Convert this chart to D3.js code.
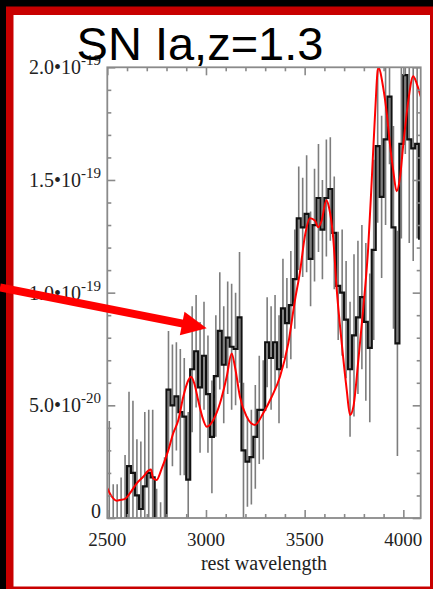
<!DOCTYPE html>
<html>
<head>
<meta charset="utf-8">
<script src="https://d3js.org/d3.v7.min.js"></script>
<style>
  html, body { margin: 0; padding: 0; background: #000; }
  svg { display: block; }
</style>
</head>
<body>
<svg id="chart" width="433" height="589"></svg>
<script>
// binned spectrum, flux in units of 1e-20, 20 A bins starting at 2500
var binEdges = d3.range(2500, 4101, 20);
var binFlux = [-0.5,-0.3,-0.9,-0.4,-0.2,2.3,2.0,1.0,0.4,1.4,
  2.0,1.8,-0.5,-0.8,-0.3,5.7,5.0,5.4,4.7,4.5,
  1.7,6.6,7.4,5.8,7.2,5.5,3.6,6.3,8.3,6.8,
  8.0,7.6,7.5,8.9,3.0,2.5,2.7,3.6,4.8,4.8,
  7.8,7.1,7.8,6.6,9.3,8.65,9.45,10.6,13.3,12.9,
  13.5,11.5,13.0,14.2,12.8,14.2,14.6,12.65,10.3,10.0,
  8.8,6.6,8.1,8.9,9.8,8.7,7.55,11.9,16.5,14.25,
  16.8,18.7,12.9,7.75,16.6,19.65,16.8,16.4,16.6,12.4];
var binErr = [4.8,1.8,2.4,2.2,3.0,3.3,3.2,2.5,3.0,3.3,
  2.8,3.0,1.8,1.5,3.0,2.6,2.7,2.4,2.8,2.6,
  3.0,2.8,2.5,2.9,2.4,2.6,2.5,2.7,2.6,2.6,
  2.5,2.8,2.5,2.9,3.0,2.0,2.1,2.3,2.4,2.2,
  2.0,2.3,2.1,2.4,2.2,2.0,2.4,2.2,2.3,2.2,
  2.6,2.1,2.5,2.4,2.2,2.6,2.3,2.5,2.4,2.8,
  2.6,3.0,3.6,3.4,3.2,3.5,3.3,4.0,3.4,3.6,
  3.8,3.0,4.5,5.0,4.2,3.5,4.6,5.0,4.2,3.5];

// template (red)
var modelWave = [2500,2519,2548,2564,2590,2615,2649,2682,2708,2721,2733,2750,2776,2809,2834,2860,2885,2910,2924,2941,2961,2981,3004,3037,3071,3105,3130,3147,3172,3206,3248,3290,3333,3375,3417,3451,3476,3502,3527,3552,3569,3586,3610,3623,3645,3662,3688,3713,3730,3747,3772,3797,3822,3840,3856,3873,3898,3916,3932,3949,3966,3983,4000,4025,4050,4067,4088];
var modelFlux = [1.32,1.0,0.77,0.8,0.85,1.1,1.54,1.83,2.1,2.15,1.75,1.69,2.2,3.0,3.76,4.35,5.38,6.1,6.27,5.97,5.2,4.5,4.05,4.35,5.09,6.27,7.3,6.7,5.38,4.5,4.13,4.65,5.38,6.27,7.75,9.67,10.9,12.55,13.3,13.2,12.9,13.2,14.1,13.8,12.4,10.2,7.75,5.7,4.57,4.94,7.0,9.3,12.0,15.0,17.8,20.0,19.1,17.96,16.6,15.4,14.5,15.1,16.6,18.5,19.6,19.3,18.7];

var xTicks = [2500, 3000, 3500, 4000];
var yTicks = [0, 5, 10, 15, 20];
var yTickMant = ["0", "5.0", "1.0", "1.5", "2.0"];
var yTickExp = ["", "-20", "-19", "-19", "-19"];

var svg = d3.select("#chart");

// frame
svg.append("rect").attr("x", 6).attr("y", 6.5).attr("width", 427).attr("height", 582.5).attr("fill", "#c80000");
svg.append("rect").attr("x", 13.5).attr("y", 15).attr("width", 416.5).attr("height", 571.5).attr("fill", "#fff");

var plot = {left: 107.3, right: 420.7, top: 67.3, bottom: 518};

var x = d3.scaleLinear().domain([2500, 4088]).range([plot.left, plot.right]);
var y = d3.scaleLinear().domain([0, 20]).range([plot.bottom, plot.top]);

svg.append("clipPath").attr("id", "clip")
  .append("rect")
  .attr("x", plot.left).attr("y", plot.top)
  .attr("width", plot.right - plot.left).attr("height", plot.bottom - plot.top);

var g = svg.append("g").attr("clip-path", "url(#clip)");

// error bars
g.selectAll("line.err")
  .data(binFlux)
  .enter()
  .append("line")
  .attr("class", "err")
  .attr("x1", (d, i) => x(binEdges[i] + 10))
  .attr("x2", (d, i) => x(binEdges[i] + 10))
  .attr("y1", (d, i) => y(d - binErr[i]))
  .attr("y2", (d, i) => y(d + binErr[i]))
  .attr("stroke", "#7d7d7d")
  .attr("stroke-width", 1.6);

// step spectrum
var stepPts = binFlux.map((d, i) => [binEdges[i], d]);
stepPts.push([binEdges[binFlux.length], binFlux[binFlux.length - 1]]);
var step = d3.line()
  .x(d => x(d[0]))
  .y(d => y(d[1]))
  .curve(d3.curveStepAfter);
g.append("path")
  .attr("d", step(stepPts))
  .attr("fill", "none")
  .attr("stroke", "#111")
  .attr("stroke-width", 2.2);

// template
var model = d3.line()
  .x((d, i) => x(modelWave[i]))
  .y(d => y(d))
  .curve(d3.curveMonotoneX);
g.append("path")
  .attr("d", model(modelFlux))
  .attr("fill", "none")
  .attr("stroke", "#ff0000")
  .attr("stroke-width", 2);

// box + ticks
var axisColor = "#8a8a8a";
svg.append("rect")
  .attr("x", plot.left).attr("y", plot.top)
  .attr("width", plot.right - plot.left).attr("height", plot.bottom - plot.top)
  .attr("fill", "none").attr("stroke", axisColor).attr("stroke-width", 1.8);

var xMinor = d3.range(2600, 4088, 100).filter(d => xTicks.indexOf(d) < 0);
var yMinor = d3.range(1, 20, 1).filter(d => yTicks.indexOf(d) < 0);

var xBottom = svg.append("g").attr("transform", "translate(0," + plot.bottom + ")");
xBottom.call(d3.axisBottom(x).tickValues(xTicks).tickSize(-8).tickFormat(""));
xBottom.append("g").call(d3.axisBottom(x).tickValues(xMinor).tickSize(-4).tickFormat(""));
var xTop = svg.append("g").attr("transform", "translate(0," + plot.top + ")");
xTop.call(d3.axisTop(x).tickValues(xTicks).tickSize(-8).tickFormat(""));
xTop.append("g").call(d3.axisTop(x).tickValues(xMinor).tickSize(-4).tickFormat(""));

var yLeft = svg.append("g").attr("transform", "translate(" + plot.left + ",0)");
yLeft.call(d3.axisLeft(y).tickValues(yTicks).tickSize(-8).tickFormat(""));
yLeft.append("g").call(d3.axisLeft(y).tickValues(yMinor).tickSize(-4).tickFormat(""));
var yRight = svg.append("g").attr("transform", "translate(" + plot.right + ",0)");
yRight.call(d3.axisRight(y).tickValues(yTicks).tickSize(-8).tickFormat(""));
yRight.append("g").call(d3.axisRight(y).tickValues(yMinor).tickSize(-4).tickFormat(""));

svg.selectAll(".domain").remove();
svg.selectAll(".tick line").attr("stroke", axisColor).attr("stroke-width", 1.6);

// labels
var serif = "'Liberation Serif', 'Times New Roman', serif";
svg.selectAll("text.xl")
  .data(xTicks)
  .enter()
  .append("text")
  .attr("class", "xl")
  .attr("x", d => x(d))
  .attr("y", 546)
  .attr("text-anchor", "middle")
  .style("font-family", serif)
  .style("font-size", "19px")
  .attr("fill", "#222")
  .text(d => d);

svg.append("text")
  .attr("x", (plot.left + plot.right) / 2)
  .attr("y", 570)
  .attr("text-anchor", "middle")
  .style("font-family", serif)
  .style("font-size", "20px")
  .attr("fill", "#222")
  .text("rest wavelength");

var yl = svg.selectAll("text.yl")
  .data(yTicks)
  .enter()
  .append("text")
  .attr("class", "yl")
  .attr("x", 101)
  .attr("y", d => y(d) + (d === 0 ? 0 : 7))
  .attr("text-anchor", "end")
  .style("font-family", serif)
  .style("font-size", "20px")
  .attr("fill", "#222");
yl.append("tspan").text((d, i) => yTickExp[i] ? yTickMant[i] + "\u202210" : yTickMant[i]);
yl.append("tspan")
  .attr("dy", -9)
  .style("font-size", "15px")
  .text((d, i) => yTickExp[i]);

// title
svg.append("text")
  .attr("x", 200)
  .attr("y", 60)
  .attr("text-anchor", "middle")
  .style("font-family", "'Liberation Sans', Arial, sans-serif")
  .style("font-size", "47px")
  .attr("fill", "#000")
  .text("SN Ia,z=1.3");

// arrow
var tail = [0, 287.5], tip = [206.7, 328.3];
var dx = tip[0] - tail[0], dy = tip[1] - tail[1];
var len = Math.sqrt(dx * dx + dy * dy);
var ux = dx / len, uy = dy / len;
var headLen = 25, headW = 12;
var base = [tip[0] - headLen * ux, tip[1] - headLen * uy];
svg.append("line")
  .attr("x1", tail[0]).attr("y1", tail[1])
  .attr("x2", base[0] + 2 * ux).attr("y2", base[1] + 2 * uy)
  .attr("stroke", "#ff0000")
  .attr("stroke-width", 8);
svg.append("path")
  .attr("d", "M" + tip + "L" + [base[0] - headW * uy, base[1] + headW * ux] +
    "L" + [base[0] + headW * uy, base[1] - headW * ux] + "Z")
  .attr("fill", "#ff0000");
</script>
</body>
</html>
